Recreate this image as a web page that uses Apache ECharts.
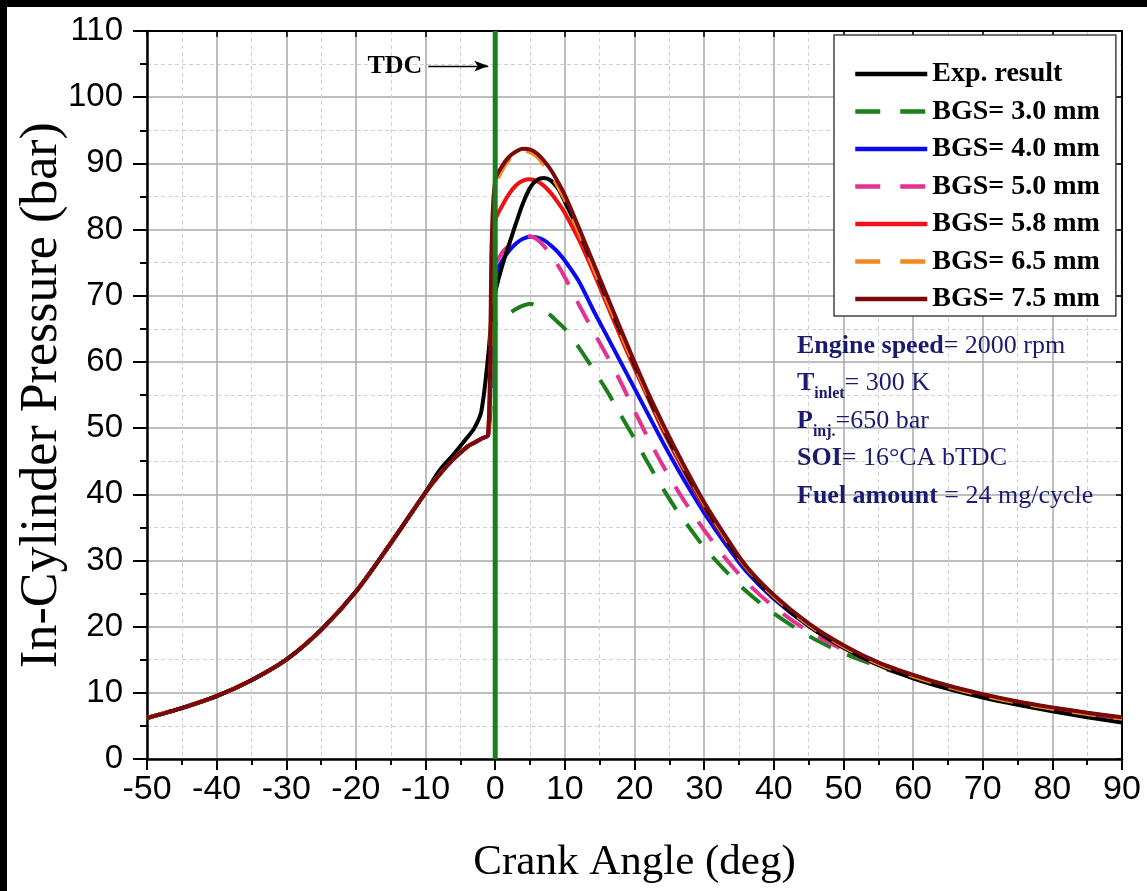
<!DOCTYPE html>
<html>
<head>
<meta charset="utf-8">
<script src="https://cdn.jsdelivr.net/npm/echarts@6/dist/echarts.min.js"></script>
<style>
  html, body { margin: 0; padding: 0; background: #fff; }
  #chart { width: 1147px; height: 891px; }
</style>
</head>
<body>
<div id="chart"></div>
<script>
// ---- Data ----
const angles = [-50,-45,-40,-35,-30,-25,-20,-15,-10,-8,-6,-4,-3,-2,-1,-0.5,0,1,2,3,4,5,6,7,8,9,10,12,14,16,18,20,22,24,26,28,30,33,36,40,45,50,55,60,65,70,75,80,85,90];
// compression part shared by all curves (-50 .. -10 deg)
const compression = [6.2,7.7,9.5,11.9,15.0,19.5,25.3,32.6,40.3];

const expResult = compression.concat([43.6,46.0,48.6,50.0,52.5,61.0,67.0,
  70.5,74.5,77.8,81.0,84.0,86.3,87.5,87.8,87.4,86.2,84.2,
  79.8,74.8,69.6,64.6,59.6,54.8,50.3,46.1,42.1,38.4,
  33.4,28.9,
  24.4,20.1,16.8,14.2,12.2,10.6,9.3,8.2,7.2,6.3,5.5]);

const bgs30 = compression.concat([43.0,45.3,47.2,47.8,48.4,49.0,58.0,
  65.5,66.5,67.3,68.0,68.5,68.8,68.4,67.7,67.0,66.0,65.0,
  62.2,59.0,55.7,52.0,48.4,44.6,41.0,37.7,34.8,32.0,
  28.5,25.4,
  22.0,18.6,16.0,14.0,12.3,10.9,9.6,8.5,7.6,6.8,6.2]);

const bgs40 = compression.concat([43.0,45.3,47.2,47.8,48.4,49.0,66.0,
  73.0,75.3,76.8,77.9,78.6,78.9,78.8,78.4,77.6,76.6,75.3,
  72.2,68.0,64.0,60.0,56.0,52.0,48.0,44.2,40.6,37.2,
  32.6,28.4,
  24.2,20.1,16.9,14.4,12.5,10.9,9.6,8.5,7.6,6.9,6.2]);

const bgs50 = compression.concat([43.0,45.3,47.2,47.8,48.4,49.0,68.0,
  74.5,76.5,77.6,78.3,78.8,79.0,78.5,77.5,76.2,74.6,72.8,
  68.7,64.8,61.0,57.0,52.6,48.4,44.5,40.9,37.6,34.6,
  30.4,26.8,
  23.0,19.3,16.5,14.2,12.4,10.9,9.6,8.5,7.6,6.9,6.2]);

const bgs58 = compression.concat([43.0,45.3,47.2,47.8,48.4,49.0,74.0,
  81.3,83.6,85.4,86.7,87.4,87.6,87.3,86.6,85.5,84.1,82.5,
  78.5,73.8,68.8,63.8,59.0,54.4,49.8,45.7,41.8,38.1,
  33.3,28.9,
  24.5,20.3,17.1,14.5,12.6,11.0,9.7,8.6,7.7,6.9,6.2]);

const bgs65 = compression.concat([43.0,45.3,47.2,47.8,48.4,49.0,77.0,
  86.5,89.0,90.6,91.5,91.9,91.7,91.0,89.8,88.3,86.5,84.5,
  79.6,74.5,69.4,64.4,59.5,54.8,50.4,46.2,42.3,38.5,
  33.5,29.0,
  24.6,20.3,17.0,14.4,12.5,10.9,9.6,8.5,7.6,6.8,6.1]);

const bgs75 = compression.concat([43.0,45.3,47.2,47.8,48.4,49.0,78.0,
  87.5,89.6,91.0,91.8,92.2,92.1,91.5,90.4,89.0,87.2,85.2,
  80.3,75.2,70.1,65.0,60.0,55.2,50.8,46.6,42.6,38.8,
  33.8,29.2,
  24.8,20.5,17.2,14.6,12.7,11.1,9.8,8.7,7.8,7.0,6.3]);

const seriesNames = ['Exp. result','BGS= 3.0 mm','BGS= 4.0 mm','BGS= 5.0 mm','BGS= 5.8 mm','BGS= 6.5 mm','BGS= 7.5 mm'];
const seriesValues = [expResult, bgs30, bgs40, bgs50, bgs58, bgs65, bgs75];

// TDC marker line
const tdcX = [0, 0];
const tdcY = [0, 110];
const tdcArrowFrom = [-9.6, 104.7];
const tdcArrowTo = [-1.0, 104.7];

const xTicks = { min: -50, max: 90, interval: 10 };
const yTicks = { min: 0, max: 110, interval: 10 };

// ---- Styles ----
const colors = ['#000000', '#1b7f1b', '#0a0af0', '#e5318f', '#ee1111', '#f08a20', '#7a0a0a'];
const dashed = [false, true, false, true, false, true, false];
const zOrder = [3, 2, 2, 2, 2, 4, 4];
const dashPattern = [24, 18];

function pairs(xs, ys) { return xs.map((x, i) => [x, ys[i]]); }

const series = seriesNames.map((name, i) => ({
  name: name,
  type: 'line',
  data: pairs(angles, seriesValues[i]),
  symbol: 'none',
  smooth: 0.3,
  z: zOrder[i],
  lineStyle: { color: colors[i], width: 4, type: dashed[i] ? dashPattern : 'solid', cap: 'butt' },
  itemStyle: { color: colors[i] },
  animation: false
}));

series.push({
  name: 'TDC',
  type: 'line',
  data: pairs(tdcX, tdcY),
  symbol: 'none',
  z: 10,
  lineStyle: { color: '#17801a', width: 5 },
  animation: false,
  markLine: {
    silent: true,
    animation: false,
    symbol: ['none', 'arrow'],
    symbolSize: [8, 14],
    lineStyle: { color: '#000', width: 1.3, type: 'solid' },
    label: {
      show: true, position: 'start', formatter: 'TDC', distance: 6,
      fontFamily: 'Liberation Serif', fontWeight: 'bold', fontSize: 26, color: '#000'
    },
    data: [[{ coord: tdcArrowFrom }, { coord: tdcArrowTo }]]
  }
});

const legendData = seriesNames.map((name, i) => ({
  name: name,
  lineStyle: { color: colors[i], width: 4.5, type: dashed[i] ? [25, 20] : 'solid', cap: 'butt' },
  itemStyle: { opacity: 0 }
}));

const serifName = { fontFamily: 'Liberation Serif', color: '#000' };

const option = {
  backgroundColor: '#ffffff',
  animation: false,
  grid: { left: 147, right: 25, top: 31, bottom: 132, containLabel: false, outerBoundsMode: 'none' },
  xAxis: [{
    type: 'value', position: 'bottom',
    min: xTicks.min, max: xTicks.max, interval: xTicks.interval,
    axisLine: { show: true, onZero: false, lineStyle: { color: '#000', width: 2.5 } },
    axisTick: { show: true, length: 11, lineStyle: { color: '#000', width: 2 } },
    minorTick: { show: true, splitNumber: 2, length: 6, lineStyle: { color: '#000', width: 2 } },
    splitLine: { show: true, lineStyle: { color: '#a9a9a9', width: 1.5 } },
    minorSplitLine: { show: true, lineStyle: { color: '#d0d0d0', width: 1, type: [4, 3] } },
    axisLabel: { color: '#000', fontFamily: 'Liberation Sans', fontSize: 34, margin: 14 },
    name: 'Crank Angle (deg)', nameLocation: 'middle', nameGap: 82, nameMoveOverlap: false,
    nameTextStyle: Object.assign({ fontSize: 43 }, serifName)
  }, {
    type: 'value', position: 'top',
    min: xTicks.min, max: xTicks.max, interval: xTicks.interval,
    axisLine: { show: true, onZero: false, lineStyle: { color: '#000', width: 2 } },
    axisTick: { show: true, inside: true, length: 6, lineStyle: { color: '#000', width: 1.5 } },
    axisLabel: { show: false },
    splitLine: { show: false }
  }],
  yAxis: [{
    type: 'value', position: 'left',
    min: yTicks.min, max: yTicks.max, interval: yTicks.interval,
    axisLine: { show: true, onZero: false, lineStyle: { color: '#000', width: 2.5 } },
    axisTick: { show: true, length: 14, lineStyle: { color: '#000', width: 2 } },
    minorTick: { show: true, splitNumber: 2, length: 7, lineStyle: { color: '#000', width: 2 } },
    splitLine: { show: true, lineStyle: { color: '#a9a9a9', width: 1.5 } },
    minorSplitLine: { show: true, lineStyle: { color: '#d0d0d0', width: 1, type: [4, 3] } },
    axisLabel: { color: '#000', fontFamily: 'Liberation Sans', fontSize: 33, margin: 24 },
    name: 'In-Cylinder Pressure (bar)', nameLocation: 'middle', nameGap: 79, nameMoveOverlap: false,
    nameTextStyle: Object.assign({ fontSize: 52 }, serifName)
  }, {
    type: 'value', position: 'right',
    min: yTicks.min, max: yTicks.max, interval: yTicks.interval,
    axisLine: { show: true, onZero: false, lineStyle: { color: '#000', width: 2 } },
    axisTick: { show: true, inside: true, length: 6, lineStyle: { color: '#000', width: 1.5 } },
    axisLabel: { show: false },
    splitLine: { show: false }
  }],
  legend: {
    data: legendData,
    orient: 'vertical',
    left: 834, top: 35,
    padding: [25, 16, 3, 19],
    itemWidth: 72, itemHeight: 20, itemGap: 9.5,
    backgroundColor: '#ffffff',
    borderColor: '#444', borderWidth: 1.5, borderRadius: 0,
    itemStyle: { opacity: 0 },
    textStyle: { fontFamily: 'Liberation Serif', fontWeight: 'bold', fontSize: 28, color: '#000' },
    selectedMode: false
  },
  graphic: [{
    type: 'text',
    left: 797, top: 333, z: 20,
    style: {
      text: '{b|Engine speed}{n|= 2000 rpm}\n{b|T}{s|inlet}{n|= 300 K}\n{b|P}{s|inj.}{n|=650 bar}\n{b|SOI}{n|= 16°CA bTDC}\n{b|Fuel amount}{n| = 24 mg/cycle}',
      rich: {
        b: { fontFamily: 'Liberation Serif', fontWeight: 'bold', fontSize: 26, lineHeight: 37.5, fill: '#1a1a70' },
        n: { fontFamily: 'Liberation Serif', fontSize: 26, lineHeight: 37.5, fill: '#1a1a70' },
        s: { fontFamily: 'Liberation Serif', fontWeight: 'bold', fontSize: 16, lineHeight: 16, verticalAlign: 'bottom', fill: '#1a1a70' }
      }
    }
  }, {
    type: 'rect', left: 0, top: 0, z: 30, silent: true,
    shape: { x: 0, y: 0, width: 1147, height: 891 },
    style: { fill: 'none', stroke: '#000', lineWidth: 7 }
  }],
  series: series
};

const chart = echarts.init(document.getElementById('chart'), null, { renderer: 'canvas' });
chart.setOption(option);
</script>
</body>
</html>
